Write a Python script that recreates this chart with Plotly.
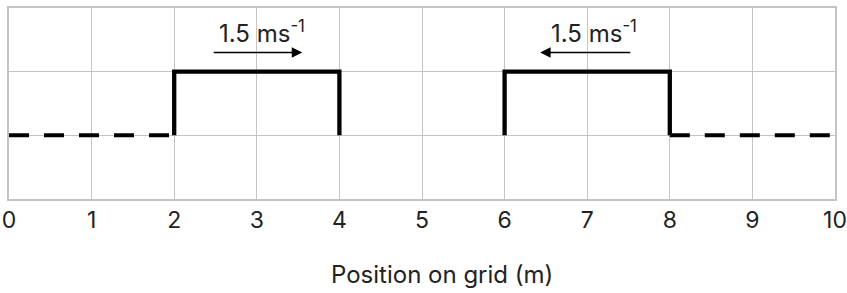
import plotly.graph_objects as go

# Data
pulse1_x = [2, 2, 4, 4]
pulse1_y = [1, 2, 2, 1]
pulse2_x = [6, 6, 8, 8]
pulse2_y = [1, 2, 2, 1]
dash_left_x = [0, 2]
dash_left_y = [1, 1]
dash_right_x = [8, 10]
dash_right_y = [1, 1]
tick_vals = list(range(0, 11))
tick_text = [str(v) for v in tick_vals]
speed_label = "1.5 ms<sup>-1</sup>"
x_title = "Position on grid (m)"
arrow1 = dict(x_from=2.46, x_to=3.55, y=2.30, text_x=3.06, text_y=2.63)
arrow2 = dict(x_from=7.54, x_to=6.43, y=2.30, text_x=7.08, text_y=2.63)

FONT = "Inter"
GRID = "#c4c4c4"

fig = go.Figure()
for xs, ys in [(dash_left_x, dash_left_y), (dash_right_x, dash_right_y)]:
    fig.add_trace(go.Scatter(x=xs, y=ys, mode="lines",
                             line=dict(color="black", width=4, dash="20px,15px"),
                             hoverinfo="skip"))
for xs, ys in [(pulse1_x, pulse1_y), (pulse2_x, pulse2_y)]:
    fig.add_trace(go.Scatter(x=xs, y=ys, mode="lines",
                             line=dict(color="black", width=4.3),
                             hoverinfo="skip"))

for a in (arrow1, arrow2):
    fig.add_annotation(x=a["x_to"], y=a["y"], ax=a["x_from"], ay=a["y"],
                       xref="x", yref="y", axref="x", ayref="y",
                       showarrow=True, arrowhead=2, arrowsize=1.4,
                       arrowwidth=1.5, arrowcolor="black", text="")
    fig.add_annotation(x=a["text_x"], y=a["text_y"], xref="x", yref="y",
                       text=speed_label, showarrow=False,
                       font=dict(family=FONT, size=24, color="#222222"))

# x-axis title (placed slightly right of centre, as in the reference)
fig.add_annotation(x=0.5, y=0, xref="paper", yref="paper",
                   xshift=20, yshift=-75, yanchor="middle",
                   text=x_title, showarrow=False,
                   font=dict(family=FONT, size=24, color="#222222"))

fig.update_layout(
    width=847, height=293,
    margin=dict(l=9, r=12, t=8, b=94, autoexpand=False),
    plot_bgcolor="white", paper_bgcolor="white",
    showlegend=False,
    font=dict(family=FONT, color="#222222"),
)
fig.update_xaxes(range=[0, 10], tickvals=tick_vals, ticktext=tick_text,
                 automargin=False,
                 showgrid=True, gridcolor=GRID, gridwidth=1,
                 showline=True, linecolor=GRID, linewidth=1.5, mirror=True,
                 zeroline=False, ticks="", tickfont=dict(size=23, family=FONT))
fig.update_yaxes(range=[0, 3], tickvals=[1, 2], showticklabels=False,
                 automargin=False,
                 showgrid=True, gridcolor=GRID, gridwidth=1,
                 showline=True, linecolor=GRID, linewidth=1.5, mirror=True,
                 zeroline=False, ticks="")

fig.write_html("out.html", config={"displayModeBar": False},
               post_script="document.body.style.margin='0';document.body.style.overflow='hidden';")
